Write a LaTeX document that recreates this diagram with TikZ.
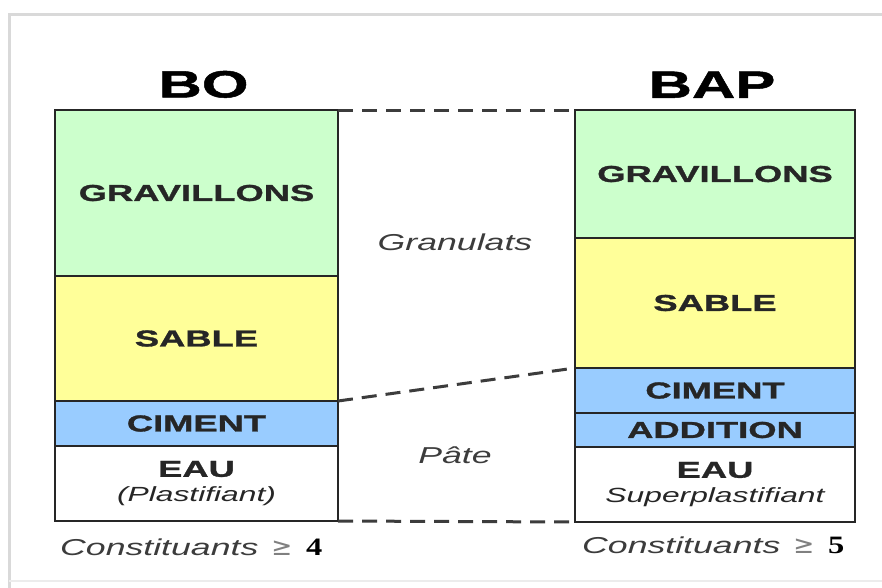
\documentclass[tikz,border=0pt]{standalone}
\usepackage{fontspec}
\usepackage{xcolor}
\usepackage{tikz}
\usetikzlibrary{positioning}
\setmainfont{Liberation Sans}
\newfontfamily\widesf[FakeStretch=1.55]{Liberation Sans}
\newfontfamily\heavysf[FakeStretch=1.58, FakeBold=1.3, UprightFont={* Bold}]{Liberation Sans}
\newfontfamily\numfont[FakeStretch=1.3]{Liberation Serif}
\newfontfamily\symfont{DejaVu Sans}
\newcommand\subfont{\widesf\mdseries\itshape\fontsize{20.5}{24}\selectfont}
\newcommand\atleast{{\symfont\fontsize{25}{27}\selectfont\color{gray}≥}}
\newcommand\countnum[1]{{\numfont\bfseries\upshape\color{black}\fontsize{25}{27}\selectfont #1}}
\definecolor{gravgreen}{HTML}{CCFFCC}
\definecolor{sableyellow}{HTML}{FFFF99}
\definecolor{cimblue}{HTML}{99CCFF}
\definecolor{inkgrey}{HTML}{262626}

\begin{document}
\begin{tikzpicture}[x=1pt, y=1pt,
    layer/.style={rectangle, draw=inkgrey, line width=2.7pt, outer sep=0pt, inner sep=0pt, align=center, text=inkgrey, font=\heavysf\fontsize{23}{27}\selectfont},
    bolayer/.style={layer, minimum width=283pt},
    baplayer/.style={layer, minimum width=280pt},
    grav/.style={fill=gravgreen},
    sable/.style={fill=sableyellow},
    cim/.style={fill=cimblue},
    eau/.style={fill=white},
    title/.style={inner sep=0pt, text=black, font=\heavysf\fontsize{38}{44}\selectfont},
    note/.style={inner sep=0pt, text=inkgrey!90, font=\widesf\itshape\fontsize{23}{27}\selectfont},
    line/.style={draw=inkgrey!90, line width=3pt, dash pattern=on 15pt off 9pt}]

    \useasboundingbox [fill=white] (0,0) rectangle (882,-587);
    \draw [gray!30, line width=3pt] (9,-600) -- (9,-14) -- (900,-14);
    \draw [gray!15, line width=1.5pt] (9,-581) -- (900,-581);

    \node [bolayer, grav, minimum height=166pt, anchor=north west] (bo_grav) at (55,-110) {GRAVILLONS};
    \node [bolayer, sable, minimum height=125pt, below=0pt of bo_grav] (bo_sable) {SABLE};
    \node [bolayer, cim, minimum height=45pt, below=0pt of bo_sable] (bo_cim) {CIMENT};
    \node [bolayer, eau, minimum height=75pt, below=0pt of bo_cim] (bo_eau) {EAU\\[-2pt]{\subfont (Plastifiant)}};

    \node [baplayer, grav, minimum height=128pt, anchor=north west] (bap_grav) at (575,-110) {GRAVILLONS};
    \node [baplayer, sable, minimum height=130pt, below=0pt of bap_grav] (bap_sable) {SABLE};
    \node [baplayer, cim, minimum height=45pt, below=0pt of bap_sable] (bap_cim) {CIMENT};
    \node [baplayer, cim, minimum height=34pt, below=0pt of bap_cim] (bap_add) {ADDITION};
    \node [baplayer, eau, minimum height=75pt, below=0pt of bap_add] (bap_eau) {EAU\\[-2pt]{\subfont Superplastifiant}};

    \node [title, above=12pt of bo_grav, xshift=7pt] (bo_title) {BO};
    \node [title, above=12pt of bap_grav, xshift=-3pt] (bap_title) {BAP};

    \node [note] (granulats) at (455,-242) {Granulats};
    \node [note] (pate) at (455,-455) {Pâte};

    \node [note, anchor=base west] (bo_count) at (60,-555) {Constituants\hspace{3pt} \atleast\hspace{4pt} \countnum{4}};
    \node [note, anchor=base west] (bap_count) at (582,-553) {Constituants\hspace{3pt} \atleast\hspace{4pt} \countnum{5}};

    \path [line] (bo_grav.north east) -- (bap_grav.north west);
    \path [line] (bo_sable.south east) -- (bap_sable.south west);
    \path [line] (bo_eau.south east) -- (bap_eau.south west);
\end{tikzpicture}
\end{document}
